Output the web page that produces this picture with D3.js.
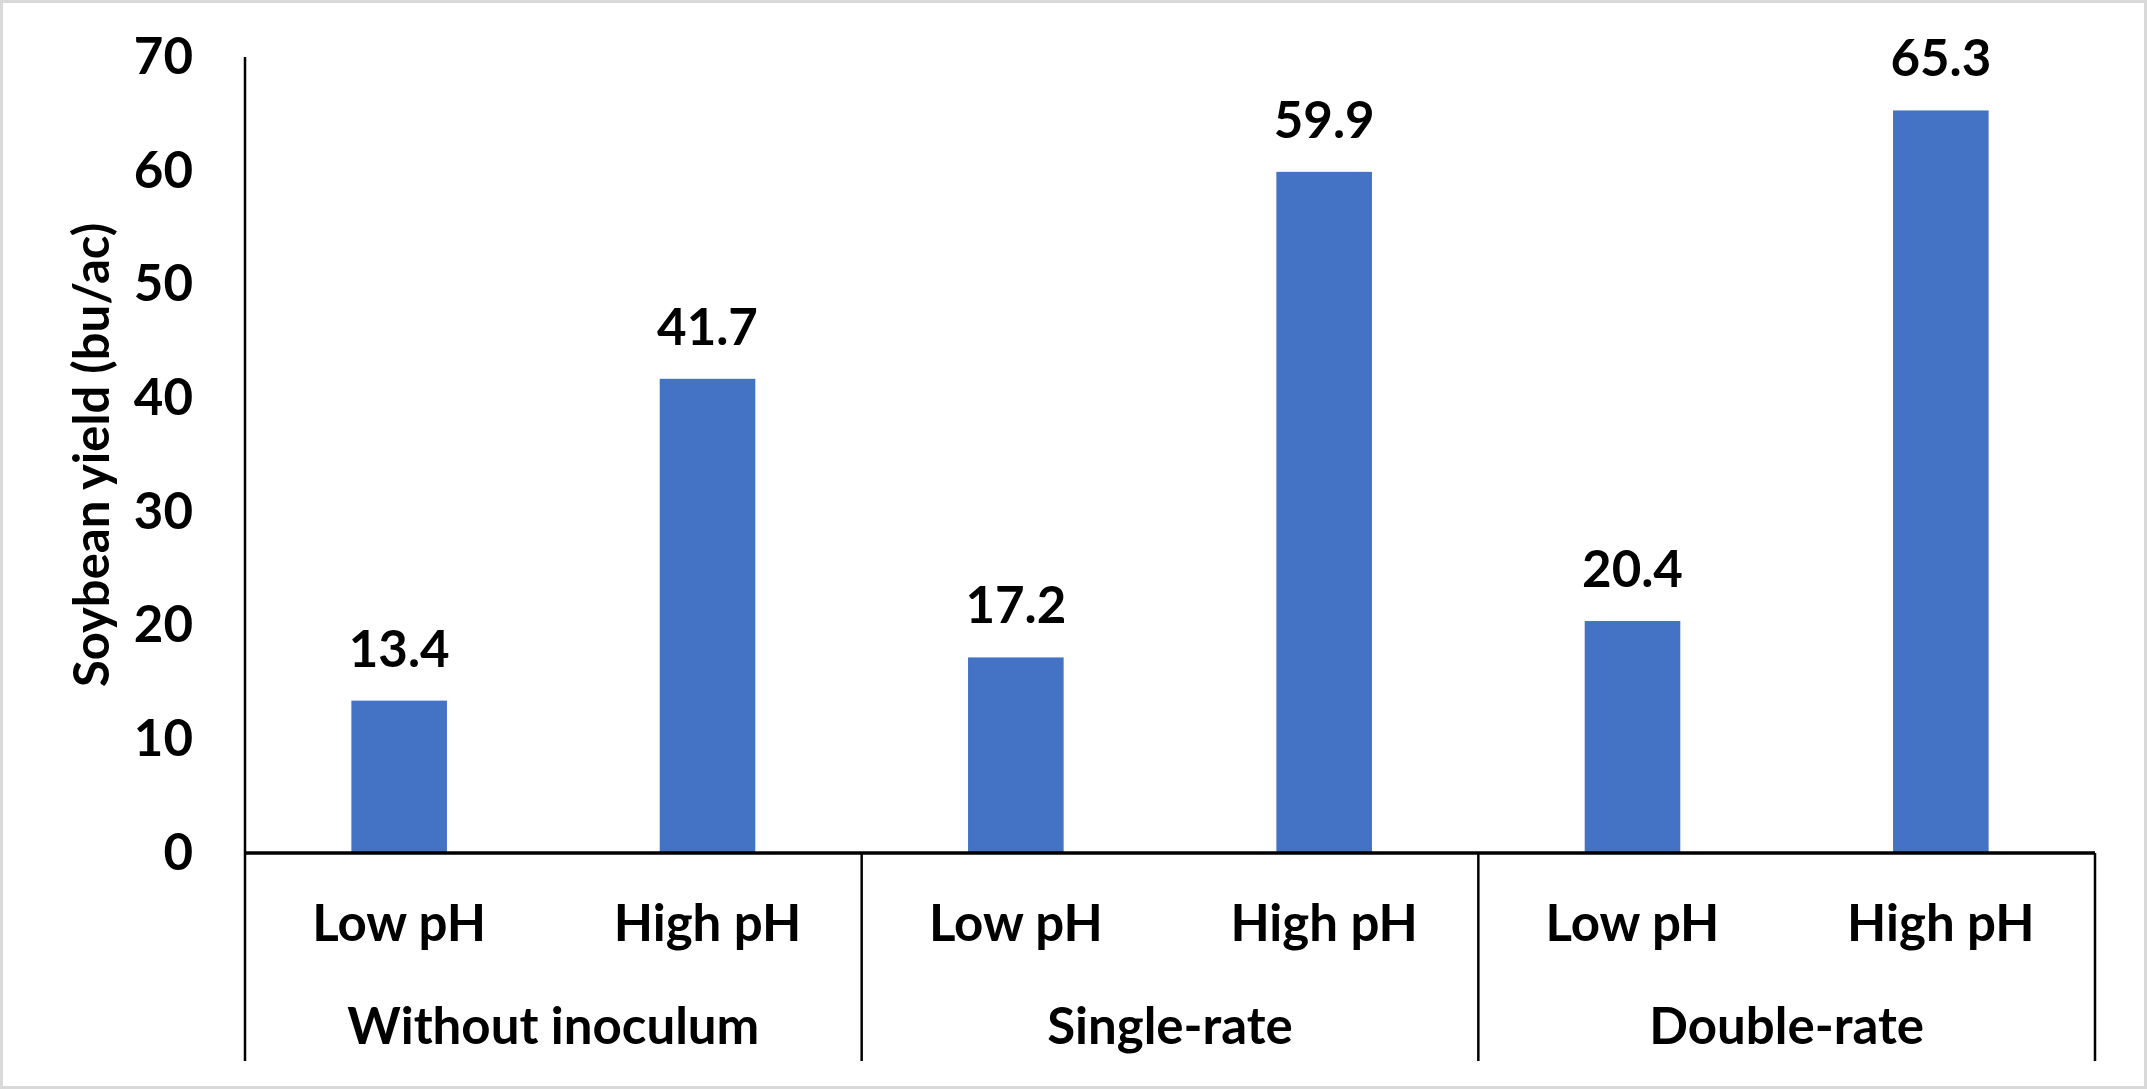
<!DOCTYPE html>
<html>
<head>
<meta charset="utf-8">
<script src="https://cdn.jsdelivr.net/npm/d3@7"></script>
<style>
  html, body { margin: 0; padding: 0; background: #fff; }
  svg { display: block; font-family: Lato, "Open Sans", sans-serif; font-weight: 700; }
</style>
</head>
<body>
<svg id="chart"></svg>
<script>
// chart values
const groups = ['Without inoculum', 'Single-rate', 'Double-rate'];
const subgroups = ['Low pH', 'High pH'];
const yieldValues = [13.4, 41.7, 17.2, 59.9, 20.4, 65.3];
const yTicks = [0, 10, 20, 30, 40, 50, 60, 70];
const yTitle = 'Soybean yield (bu/ac)';

const W = 2147, H = 1089;
const margin = { top: 57, right: 52, bottom: 236, left: 245 };
const width = W - margin.left - margin.right,
  height = H - margin.top - margin.bottom;
const catDepth = 208; // depth of the two-level category area below the baseline
const fs = 51;

const svg = d3.select('#chart').attr('width', W).attr('height', H);

// light grey frame around the chart
svg.append('rect')
  .attr('x', 1.5).attr('y', 1.5)
  .attr('width', W - 3).attr('height', H - 3)
  .attr('fill', '#fff')
  .attr('stroke', '#d9d9d9')
  .attr('stroke-width', 3);

const g = svg.append('g').attr('transform', `translate(${margin.left},${margin.top})`);

const data = yieldValues.map((v, i) => ({
  key: groups[Math.floor(i / 2)] + '|' + subgroups[i % 2],
  group: groups[Math.floor(i / 2)],
  sub: subgroups[i % 2],
  value: v
}));

const x = d3.scaleBand()
  .domain(data.map((d) => d.key))
  .range([0, width])
  .paddingInner(0.69)
  .paddingOuter(0.345);

const xGroup = d3.scaleBand()
  .domain(groups)
  .range([0, width]);

const y = d3.scaleLinear()
  .domain([0, 70])
  .range([height, 0]);

// y axis labels
const yAxis = g.append('g')
  .call(d3.axisLeft(y).tickValues(yTicks).tickSize(0).tickPadding(52));
yAxis.select('.domain').remove();
yAxis.selectAll('text')
  .attr('font-size', fs)
  .attr('font-family', 'Lato, sans-serif')
  .attr('font-weight', 700)
  .attr('fill', '#000');

// y axis title
g.append('text')
  .attr('transform', `translate(-136,${height / 2}) rotate(-90)`)
  .attr('text-anchor', 'middle')
  .attr('font-size', fs - 2)
  .attr('fill', '#000')
  .text(yTitle);

// bars
g.selectAll('.bar')
  .data(data)
  .enter()
  .append('rect')
  .attr('class', 'bar')
  .attr('x', (d) => x(d.key))
  .attr('y', (d) => y(d.value))
  .attr('width', x.bandwidth())
  .attr('height', (d) => height - y(d.value))
  .attr('fill', '#4472c4');

// data labels
g.selectAll('.label')
  .data(data)
  .enter()
  .append('text')
  .attr('class', 'label')
  .attr('x', (d) => x(d.key) + x.bandwidth() / 2)
  .attr('y', (d) => y(d.value) - 34)
  .attr('text-anchor', 'middle')
  .attr('font-size', fs)
  .attr('fill', '#000')
  .text((d) => d.value.toFixed(1));

// sub-category labels
const xAxis = g.append('g')
  .attr('transform', `translate(0,${height})`)
  .call(d3.axisBottom(x).tickSize(0).tickPadding(52).tickFormat((k) => k.split('|')[1]));
xAxis.select('.domain').remove();
xAxis.selectAll('text')
  .attr('font-size', fs)
  .attr('font-family', 'Lato, sans-serif')
  .attr('font-weight', 700)
  .attr('fill', '#000');

// group labels
g.selectAll('.group-label')
  .data(groups)
  .enter()
  .append('text')
  .attr('class', 'group-label')
  .attr('x', (d) => xGroup(d) + xGroup.bandwidth() / 2)
  .attr('y', height + 191)
  .attr('text-anchor', 'middle')
  .attr('font-size', fs)
  .attr('fill', '#000')
  .text((d) => d);

// group dividers
const edges = groups.map((d) => xGroup(d)).concat([width]);
g.selectAll('.divider')
  .data(edges)
  .enter()
  .append('line')
  .attr('x1', (d) => d).attr('x2', (d) => d)
  .attr('y1', (d, i) => (i === 0 ? 0 : height))
  .attr('y2', height + catDepth)
  .attr('stroke', '#000')
  .attr('stroke-width', 2.5);

// baseline
g.append('line')
  .attr('x1', 0).attr('x2', width)
  .attr('y1', height).attr('y2', height)
  .attr('stroke', '#000')
  .attr('stroke-width', 3.5);
</script>
</body>
</html>
